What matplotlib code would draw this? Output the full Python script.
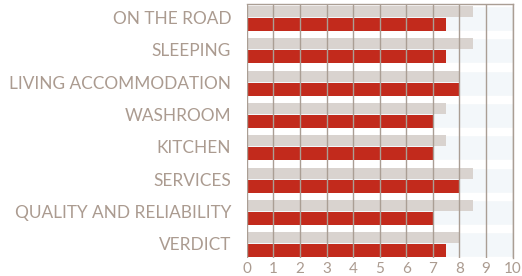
import matplotlib
matplotlib.use("Agg")
from matplotlib import pyplot as plt

categories = ["ON THE ROAD", "SLEEPING", "LIVING ACCOMMODATION", "WASHROOM",
              "KITCHEN", "SERVICES", "QUALITY AND RELIABILITY", "VERDICT"]
grey_values = [8.5, 8.5, 8.0, 7.5, 7.5, 8.5, 8.5, 8.0]
red_values = [7.5, 7.5, 8.0, 7.0, 7.0, 8.0, 7.0, 7.5]
tick_values = list(range(0, 11))

grey_color = "#d9d3cf"
red_color = "#c22a1c"
grid_color = "#aa9e94"
text_color = "#ab9b90"

fig = plt.figure(figsize=(5.22, 2.76), dpi=100)
ax = fig.add_axes([246.7 / 522, 18.3 / 276, 266 / 522, 253.7 / 276])
ax.set_facecolor("#f3f7fa")

pos = list(range(len(categories)))
ax.barh([p + 0.17 for p in pos], grey_values, height=0.34, color=grey_color, zorder=2)
ax.barh([p + 0.57 for p in pos], red_values, height=0.40, color=red_color, zorder=2)

# white gaps between groups
for p in pos:
    ax.axhspan(p + 0.77, p + 1.0, color="white", zorder=1)
ax.axhspan(-0.06, 0.0, color="white", zorder=1)

for t in tick_values:
    ax.axvline(t, color=grid_color, lw=1.0, zorder=3)

ax.set_xlim(0, 10)
ax.set_ylim(7.78, -0.06)
ax.set_xticks(tick_values)
ax.set_xticklabels([str(t) for t in tick_values], fontsize=11, color=text_color,
                   family="Lato")
ax.tick_params(axis="x", length=0, pad=3)
ax.set_yticks([])

for p, name in zip(pos, categories):
    ax.text(-0.58, p + 0.40, name, ha="right", va="center", fontsize=12.4,
            color=text_color, family="Lato", transform=ax.transData, clip_on=False)

for side in ["top", "right"]:
    ax.spines[side].set_color(grid_color)
    ax.spines[side].set_linewidth(1.0)
ax.spines["bottom"].set_visible(False)
ax.spines["left"].set_visible(False)

fig.savefig("out.png", dpi=100)
